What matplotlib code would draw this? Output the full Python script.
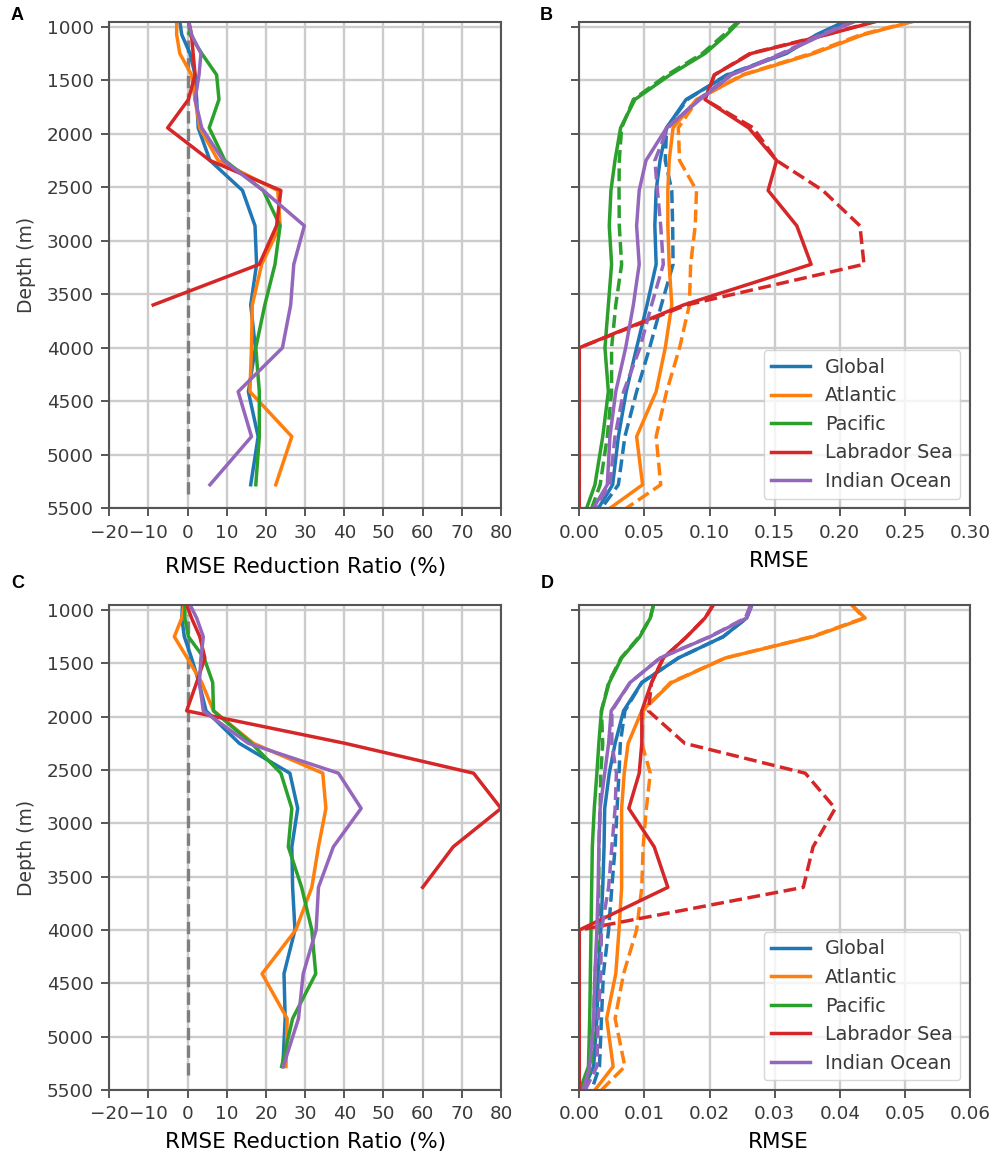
# Depth profiles of RMSE and RMSE reduction ratio for each ocean basin
import matplotlib
matplotlib.use('Agg')
import matplotlib.pyplot as plt

depth = [950, 1075, 1250, 1450, 1680, 1945, 2250, 2530, 2860, 3220, 3600, 4000, 4410, 4830, 5280]
depth_rmse = depth + [5500]
depth_lab = depth[:11]

# Panel A: reduction ratio
a_global = [-2, -1.5, 0.6, 1.9, 2.3, 2.7, 5.7, 14, 17.2, 17.6, 16.1, 17.3, 15.5, 18, 16.1]
a_atlantic = [-2.8, -2.8, -2, 1, 1.9, 3.1, 7.8, 23, 23.6, 18.9, 16.5, 16.3, 15.9, 26.6, 22.5]
a_pacific = [0.2, 0.6, 3.6, 7.4, 8, 5.5, 9.5, 19.3, 23.6, 22.3, 19.7, 17.4, 18.3, 18.3, 17.4]
a_labrador = [0.3, 1, 1.4, 1.9, 0.2, -5.1, 5.7, 23.8, 22.7, 18.3, -8.8]
a_indian = [0.2, 1, 3.4, 2.9, 1.9, 3.6, 9.1, 19.3, 29.8, 27.1, 26.3, 24.2, 12.9, 16.3, 5.7]

# Panel B: RMSE, solid and dashed
b_global = [.204, .182, .159, .114, .082, .067, .062, .059, .058, .059, .052, .044, .036, .030, .0256, .0146]
b_global_d = [.205, .183, .158, .113, .083, .067, .066, .071, .0717, .072, .063, .054, .044, .035, .030, .017]
b_atlantic = [.2565, .218, .18, .126, .09, .072, .069, .068, .068, .069, .071, .066, .059, .044, .0486, .0235]
b_atlantic_d = [.2555, .216, .178, .125, .091, .076, .077, .09, .089, .0855, .0845, .077, .067, .059, .0625, .036]
b_pacific = [.123, .113, .0965, .0696, .0427, .0317, .0274, .0243, .023, .0248, .0223, .0197, .0223, .018, .012, .0056]
b_pacific_d = [.122, .111, .0945, .0675, .0415, .0325, .0307, .0305, .0307, .0325, .028, .0248, .0248, .0215, .016, .0095]
b_labrador = [.228, .19, .132, .1037, .0965, .13, .1515, .145, .167, .178, .08, 0, 0, 0, 0, 0]
b_labrador_d = [.227, .189, .131, .1037, .0965, .1336, .1515, .187, .2155, .2186, .0824, 0, 0, 0, 0, 0]
b_indian = [.2117, .187, .1566, .117, .0927, .067, .0512, .046, .044, .046, .0415, .0356, .028, .0235, .0215, .0107]
b_indian_d = [.2105, .185, .155, .116, .0915, .068, .058, .06, .0625, .0645, .0555, .0466, .034, .0274, .0235, .012]

# Panel C: reduction ratio
c_global = [-1.3, -1.5, -0.85, 1, 2.9, 4.7, 13.2, 26.1, 28.1, 26.6, 26.8, 27.4, 24.6, 24.9, 24.3]
c_atlantic = [-0.85, -1.5, -3.4, -0.1, 3.6, 6.6, 16.8, 34.5, 35.3, 33.4, 31.7, 27.6, 19, 25.4, 25.1]
c_pacific = [-0.7, -0.7, 0.2, 4.2, 6.4, 6.6, 16.3, 23.8, 26.6, 25.7, 29.1, 31.7, 32.7, 26.8, 24]
c_labrador = [-0.25, 1, 3.1, 4.4, 2.3, -0.25, 40.2, 73, 80, 67.8, 60]
c_indian = [0.6, 2.3, 4, 3.4, 3, 4, 15.5, 38.5, 44.3, 37.2, 33.4, 32.8, 29.5, 28.3, 24.4]

# Panel D: RMSE, solid and dashed
d_global = [.0265, .0257, .0221, .0152, .0096, .0068, .0055, .0046, .0039, .0038, .0036, .0033, .0029, .0027, .0022, .0006]
d_global_d = [.0265, .0257, .0221, .0152, .0096, .007, .0063, .0061, .0058, .0055, .005, .0045, .0037, .0034, .0031, .0019]
d_atlantic = [.0418, .0439, .0359, .0224, .0142, .0096, .0075, .0069, .0065, .0065, .0065, .0061, .0056, .0042, .0052, .0024]
d_atlantic_d = [.0418, .0437, .0357, .0224, .0140, .0098, .0096, .0109, .0103, .0098, .0096, .0088, .0068, .0055, .007, .0034]
d_pacific = [.0114, .0109, .0093, .0065, .0046, .0034, .003, .0027, .0023, .002, .0019, .0018, .0017, .0016, .0014, .0001]
d_pacific_d = [.0114, .0109, .0092, .0064, .0045, .0034, .0036, .0033, .0032, .003, .003, .0029, .0024, .0022, .0019, .0004]
d_labrador = [.0206, .0193, .0165, .0129, .0111, .0096, .0096, .0092, .0076, .0115, .0136, 0, 0, 0, 0, 0]
d_labrador_d = [.0206, .0193, .0165, .0129, .0111, .0106, .0162, .0347, .0393, .0359, .0344, 0, 0, 0, 0, 0]
d_indian = [.0265, .0257, .0201, .0124, .0078, .0049, .0045, .0039, .0032, .003, .0029, .0027, .0024, .0022, .0016, .0006]
d_indian_d = [.0263, .0255, .0200, .0124, .0078, .005, .005, .0057, .0055, .005, .0045, .0034, .0033, .0029, .0027, .0009]

regions = ['Global', 'Atlantic', 'Pacific', 'Labrador Sea', 'Indian Ocean']
colors = ['tab:blue', 'tab:orange', 'tab:green', 'tab:red', 'tab:purple']
y_ticks = [1000, 1500, 2000, 2500, 3000, 3500, 4000, 4500, 5000, 5500]
ratio_ticks = [-20, -10, 0, 10, 20, 30, 40, 50, 60, 70, 80]
rmse_b_ticks = [0.00, 0.05, 0.10, 0.15, 0.20, 0.25, 0.30]
rmse_d_ticks = [0.00, 0.01, 0.02, 0.03, 0.04, 0.05, 0.06]

W, H = 995, 1155
LW = 2.5
DARK = '#3a3a3a'
plt.rcParams['font.family'] = 'DejaVu Sans'
plt.rcParams['font.size'] = 13

fig = plt.figure(figsize=(W / 100, H / 100), dpi=100)


def make_axes(x0, x1, y0, y1):
    # pixel box to figure fraction
    return fig.add_axes([x0 / W, 1 - y1 / H, (x1 - x0) / W, (y1 - y0) / H])


def style(ax, xticks, xlim, fmt, show_y):
    ax.set_xlim(*xlim)
    ax.set_ylim(5500, 953)
    ax.set_xticks(xticks)
    ax.set_xticklabels([(fmt % t).replace('-', '\u2212') for t in xticks])
    ax.set_yticks(y_ticks)
    if not show_y:
        ax.set_yticklabels([])
    ax.grid(True, color='#cccccc', lw=1.7)
    ax.set_axisbelow(True)
    ax.tick_params(length=6, width=1.2, color=DARK, labelcolor=DARK, labelsize=13.2, pad=5)
    for s in ax.spines.values():
        s.set_color('#555555')
        s.set_linewidth(1.5)


def ratio_panel(ax, series):
    ax.axvline(0, color='gray', ls='--', lw=2.4, ymin=0.03, ymax=0.98)
    for vals, c, name in zip(series, colors, regions):
        yy = depth_lab if name == 'Labrador Sea' else depth
        ax.plot(vals, yy, color=c, lw=LW, label=name)
    style(ax, ratio_ticks, (-20, 80), '%d', True)
    ax.set_ylabel('Depth (m)', fontsize=13.5, color=DARK)
    ax.yaxis.set_label_coords(-0.186, 0.5)


def rmse_panel(ax, solid, dashed, xticks, xlim):
    for vals, vals_d, c, name in zip(solid, dashed, colors, regions):
        ax.plot(vals, depth_rmse, color=c, lw=LW, label=name)
        ax.plot(vals_d, depth_rmse, color=c, lw=LW, ls='--')
    style(ax, xticks, xlim, '%.2f', False)
    ax.legend(loc='lower right', bbox_to_anchor=(1.0, 0.0), fontsize=13.8, labelcolor=DARK,
              handlelength=2.0, borderaxespad=0.5)


ax_a = make_axes(109.3, 501, 21.7, 508.3)
ratio_panel(ax_a, [a_global, a_atlantic, a_pacific, a_labrador, a_indian])
ax_a.set_xlabel('RMSE Reduction Ratio (%)', fontsize=15.5, labelpad=11)

ax_b = make_axes(579.3, 970, 21.7, 508.3)
rmse_panel(ax_b, [b_global, b_atlantic, b_pacific, b_labrador, b_indian],
           [b_global_d, b_atlantic_d, b_pacific_d, b_labrador_d, b_indian_d],
           rmse_b_ticks, (0, 0.30))
ax_b.set_xlabel('RMSE', fontsize=15.5, labelpad=7, x=0.513)

ax_c = make_axes(109.3, 501, 605, 1090)
ratio_panel(ax_c, [c_global, c_atlantic, c_pacific, c_labrador, c_indian])
ax_c.set_xlabel('RMSE Reduction Ratio (%)', fontsize=15.5, labelpad=6)

ax_d = make_axes(579.3, 970, 605, 1090)
rmse_panel(ax_d, [d_global, d_atlantic, d_pacific, d_labrador, d_indian],
           [d_global_d, d_atlantic_d, d_pacific_d, d_labrador_d, d_indian_d],
           rmse_d_ticks, (0, 0.06))
ax_d.set_xlabel('RMSE', fontsize=15.5, labelpad=6, x=0.508)

# panel letters
for letter, px, py in [('A', 17, 15), ('B', 546, 15), ('C', 18, 583), ('D', 547, 583)]:
    fig.text(px / W, 1 - py / H, letter, fontsize=13, fontweight='bold', family='Liberation Sans',
             ha='center', va='center')

fig.savefig('out.png', dpi=100)
